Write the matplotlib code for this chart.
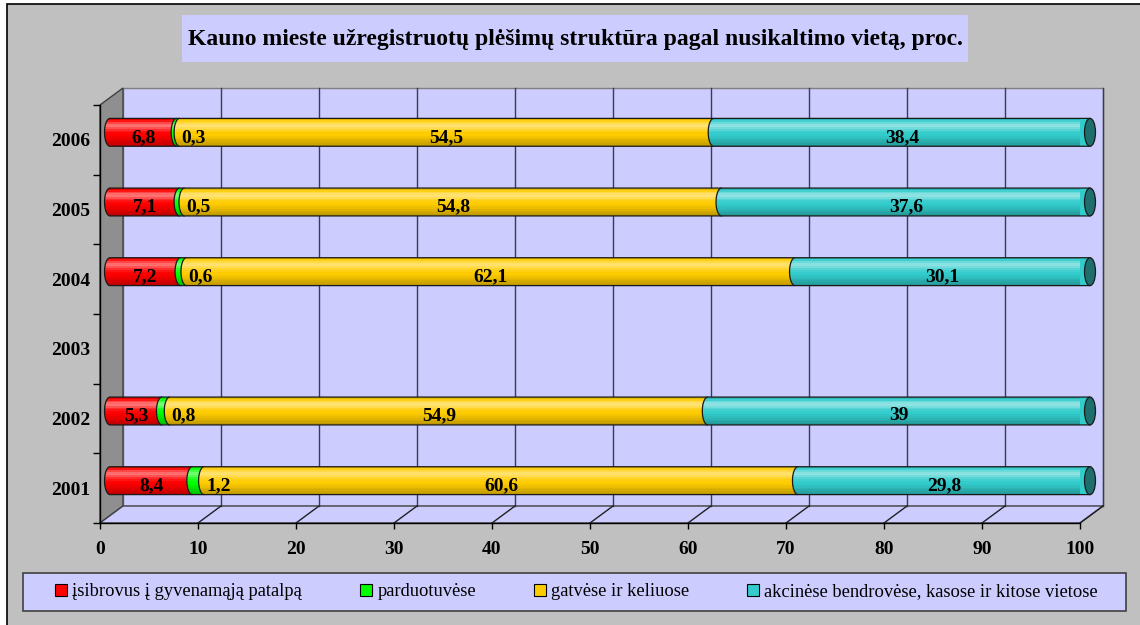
import numpy as np
import matplotlib
matplotlib.use('Agg')
import matplotlib.pyplot as plt
from matplotlib.patches import Rectangle, Polygon, Ellipse, Patch
from matplotlib.transforms import ScaledTranslation

plt.rcParams['font.family'] = ['Liberation Serif', 'DejaVu Serif']

# data
years = ['2001', '2002', '2003', '2004', '2005', '2006']
isibrovus = [8.4, 5.3, np.nan, 7.2, 7.1, 6.8]
parduotuvese = [1.2, 0.8, np.nan, 0.6, 0.5, 0.3]
gatvese = [60.6, 54.9, np.nan, 62.1, 54.8, 54.5]
akcinese = [29.8, 39, np.nan, 30.1, 37.6, 38.4]
series = [isibrovus, parduotuvese, gatvese, akcinese]
series_names = ['įsibrovus į gyvenamąją patalpą', 'parduotuvėse',
                'gatvėse ir keliuose', 'akcinėse bendrovėse, kasose ir kitose vietose']
colors = ['#FF0000', '#00FF00', '#FFCC00', '#33CCCC']
title = 'Kauno mieste užregistruotų plėšimų struktūra pagal nusikaltimo vietą, proc.'

W, H = 1140, 625
fig = plt.figure(figsize=(W / 100, H / 100), dpi=100, facecolor='white')


def fx(p):
    return p / W


def fy(p):
    return 1 - p / H


# chart area background with border on the visible left/top sides
fig.add_artist(Rectangle((fx(7), -0.01), 1.1, fy(4) + 0.01, transform=fig.transFigure,
                         fc='#C0C0C0', ec='black', lw=1.2, zorder=-10))

# front plane of the 3D box
ax = fig.add_axes([fx(100), fy(523), 980 / W, 418 / H])
ax.set_facecolor('none')
ax.set_xlim(0, 100)
ax.set_ylim(-0.5, 5.5)

dxa, dya = 23 / 980, 17 / 418  # depth offset in axes fraction

# back wall, left wall, floor
ax.add_patch(Rectangle((dxa, dya), 1, 1, transform=ax.transAxes, fc='#CCCCFF',
                       ec='#7F7F7F', lw=1, clip_on=False, zorder=0))
ax.add_patch(Polygon([(0, 0), (0, 1), (dxa, 1 + dya), (dxa, dya)], closed=True,
                     transform=ax.transAxes, fc='#8F8F8F', ec='#404040', lw=1,
                     clip_on=False, zorder=0.5))
ax.add_patch(Polygon([(0, 0), (1, 0), (1 + dxa, dya), (dxa, dya)], closed=True,
                     transform=ax.transAxes, fc='#CCCCFF', ec='#404040', lw=1,
                     clip_on=False, zorder=0.5))
for k in range(1, 11):
    ax.plot([k / 10 + dxa] * 2, [dya, 1 + dya], transform=ax.transAxes,
            color='#3A3A50', lw=1, clip_on=False, zorder=1)
    ax.plot([k / 10, k / 10 + dxa], [0, dya], transform=ax.transAxes,
            color='#202020', lw=1, clip_on=False, zorder=1)

# cylinders sit in the middle of the depth
trB = ax.transData + ScaledTranslation(10 / 100, 7.5 / 100, fig.dpi_scale_trans)
trL = trB + ScaledTranslation(0, -5 / 100, fig.dpi_scale_trans)

h = 0.4
a = 0.56  # half width of the end ellipse, in data units
prof = [-0.10, 0.08, 0.28, 0.42, 0.45, 0.32, 0.18, 0.08, 0.02, 0.0,
        -0.04, -0.08, -0.12, -0.16, -0.20, -0.26]
n = len(prof)

z = 3.0
for i, yr in enumerate(years):
    vals = [s[i] for s in series]
    if any(np.isnan(v) for v in vals):
        continue
    left = 0.0
    for j, v in enumerate(vals):
        x0, x1 = left, left + v
        t = np.linspace(np.pi / 2, 3 * np.pi / 2, 30)
        verts = ([(x1, i + h / 2), (x0, i + h / 2)]
                 + list(zip(x0 + a * np.cos(t), i + h / 2 * np.sin(t)))
                 + [(x1, i - h / 2)])
        body = Polygon(verts, closed=True, fc=colors[j], lw=0, transform=trB,
                       clip_on=False, zorder=z)
        ax.add_patch(body)
        for k, s in enumerate(prof):
            band = Rectangle((x0 - a, i + h / 2 - (k + 1) * h / n), v + a, h / n,
                             fc='white' if s > 0 else 'black', alpha=abs(s), lw=0,
                             transform=trB, zorder=z + 0.01)
            ax.add_patch(band)
            band.set_clip_path(body)
        ax.add_patch(Polygon(verts, closed=True, fc='none', ec='#1A1A1A', lw=0.9,
                             transform=trB, clip_on=False, zorder=z + 0.02))
        z += 0.1
        lab = f'{v:g}'.replace('.', ',')
        if j == 1:
            ax.text(x1 + 0.2, i, lab, transform=trL, ha='left', va='center',
                    fontsize=14, fontweight='bold', zorder=20)
        else:
            ax.text((x0 + x1) / 2, i, lab, transform=trL, ha='center', va='center',
                    fontsize=14, fontweight='bold', zorder=20)
        left = x1
    ax.add_patch(Ellipse((left, i), 2 * a, h, fc='#1F6E6E', ec='#1A1A1A', lw=0.9,
                         transform=trB, clip_on=False, zorder=z))
    z += 0.1

# axes, ticks
for side in ['top', 'right']:
    ax.spines[side].set_visible(False)
for side in ['left', 'bottom']:
    ax.spines[side].set_color('black')
    ax.spines[side].set_linewidth(1)
    ax.spines[side].set_zorder(2)

ax.set_xticks(np.arange(0, 101, 10))
ax.tick_params(axis='x', length=4, width=1, pad=9, labelsize=14)
ax.set_yticks(np.arange(-0.5, 6, 1), [''] * 7)
ax.set_yticks(range(len(years)), years, minor=True)
ax.tick_params(axis='y', which='major', length=5, width=1)
ax.tick_params(axis='y', which='minor', length=0, pad=7, labelsize=14)
for lbl in ax.get_xticklabels() + ax.get_yticklabels(minor=True):
    lbl.set_fontweight('bold')

# title box
fig.add_artist(Rectangle((fx(182), fy(62)), fx(968) - fx(182), 47 / H,
                         transform=fig.transFigure, fc='#CCCCFF', lw=0, zorder=1))
fig.text(fx(575), fy(40), title, ha='center', va='center', fontsize=17,
         fontweight='bold', zorder=2)

# legend
fig.add_artist(Rectangle((fx(23), fy(611)), fx(1126) - fx(23), 38 / H,
                         transform=fig.transFigure, fc='#CCCCFF', ec='#404040',
                         lw=1.2, zorder=1))
handles = [Patch(facecolor=c, edgecolor='black', linewidth=0.8) for c in colors]
fig.legend(handles, series_names, loc='center', ncol=4, mode='expand',
           bbox_to_anchor=(fx(55), fy(611), fx(1098) - fx(55), 38 / H),
           frameon=False, borderpad=0, borderaxespad=0, handlelength=0.66,
           handleheight=0.66, handletextpad=0.28, prop={'size': 13.3})

fig.savefig('out.png', dpi=100, facecolor=fig.get_facecolor())
